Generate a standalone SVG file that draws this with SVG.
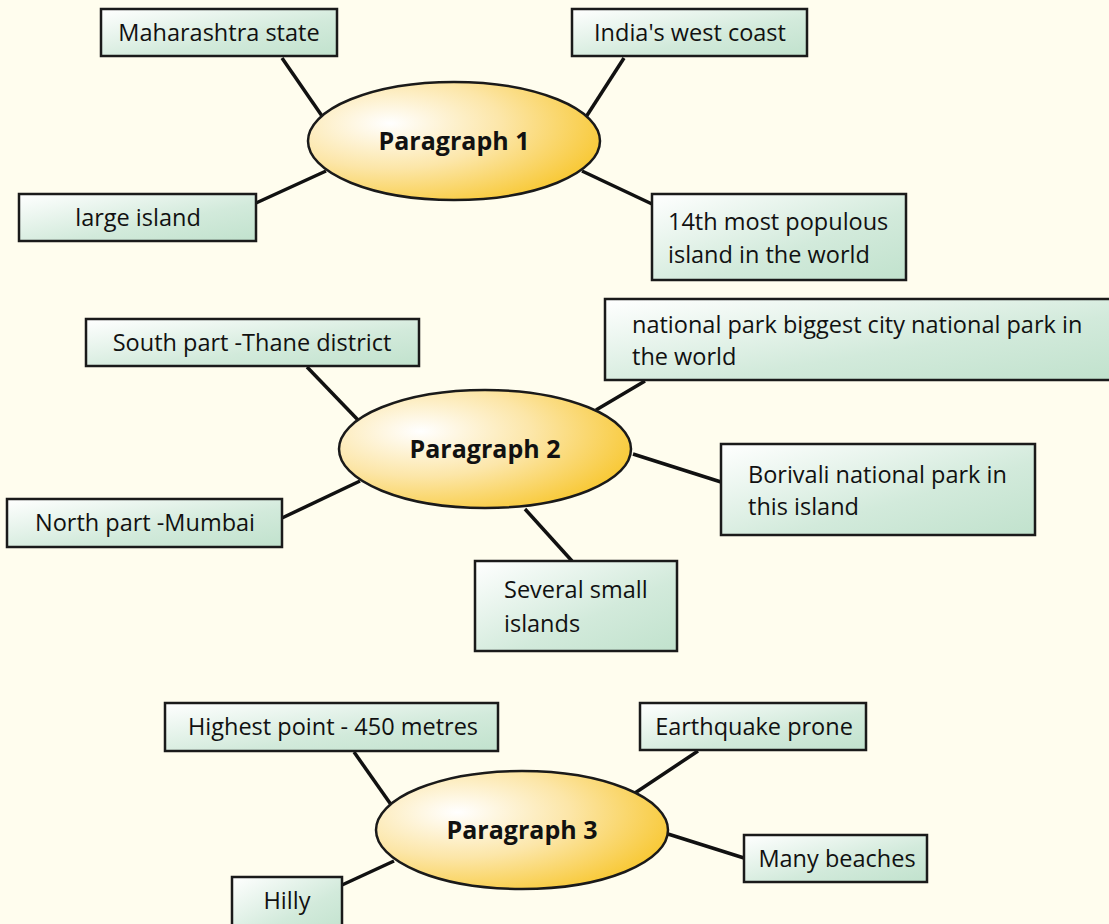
<svg xmlns="http://www.w3.org/2000/svg" width="1109" height="924" viewBox="0 0 1109 924">
<defs>
<radialGradient id="eg" cx="0.28" cy="0.35" r="0.85" fx="0.28" fy="0.35">
<stop offset="0" stop-color="#FFFFFF"/>
<stop offset="0.45" stop-color="#FCE6A8"/>
<stop offset="1" stop-color="#F7C21C"/>
</radialGradient>
<linearGradient id="bg" x1="0" y1="0" x2="1" y2="1">
<stop offset="0" stop-color="#FFFFFF"/>
<stop offset="0.6" stop-color="#D2EADB"/>
<stop offset="1" stop-color="#C1E2CD"/>
</linearGradient>
<style>
.bx{fill:url(#bg);stroke:#1a1a1a;stroke-width:2.5}
.el{fill:url(#eg);stroke:#1a1a1a;stroke-width:2.5}
.t{font-family:"Open Sans","Noto Sans",sans-serif;font-size:23.5px;fill:#111}
.c{text-anchor:middle}
.h{font-family:"Open Sans","Noto Sans",sans-serif;font-size:25px;font-weight:bold;fill:#111;text-anchor:middle}
.cn line{stroke:#111;stroke-width:3.5}
</style>
</defs>
<rect width="1109" height="924" fill="#FFFDEE"/>
<g id="connectors" class="cn">
<line x1="282" y1="58" x2="322" y2="116"/>
<line x1="624" y1="58" x2="586" y2="117"/>
<line x1="256" y1="203" x2="326" y2="171"/>
<line x1="582" y1="171" x2="652" y2="204"/>
<line x1="307" y1="367" x2="358" y2="420"/>
<line x1="645" y1="381" x2="596" y2="410"/>
<line x1="282" y1="518" x2="360" y2="481"/>
<line x1="633" y1="454" x2="721" y2="482"/>
<line x1="525" y1="509" x2="572" y2="561"/>
<line x1="354" y1="752" x2="392" y2="806"/>
<line x1="698" y1="751" x2="632" y2="795"/>
<line x1="668" y1="834" x2="744" y2="858"/>
<line x1="342" y1="885" x2="394" y2="861"/>
</g>
<g id="p1"><ellipse class="el" cx="454" cy="141" rx="146" ry="59"/><text class="h" x="454" y="150">Paragraph 1</text></g>
<g id="p2"><ellipse class="el" cx="485" cy="449" rx="146" ry="59"/><text class="h" x="485" y="458">Paragraph 2</text></g>
<g id="p3"><ellipse class="el" cx="522" cy="830" rx="146" ry="59"/><text class="h" x="522" y="839">Paragraph 3</text></g>
<g id="n1"><rect class="bx" x="101" y="9" width="236" height="47"/><text class="t c" x="219" y="41">Maharashtra state</text></g>
<g id="n2"><rect class="bx" x="572" y="9" width="235" height="47"/><text class="t c" x="690" y="41">India's west coast</text></g>
<g id="n3"><rect class="bx" x="19" y="194" width="237" height="47"/><text class="t c" x="138" y="226">large island</text></g>
<g id="n4"><rect class="bx" x="652" y="194" width="254" height="86"/><text class="t" x="668" y="230">14th most populous</text><text class="t" x="668" y="263">island in the world</text></g>
<g id="n5"><rect class="bx" x="86" y="319" width="333" height="47"/><text class="t c" x="252" y="351">South part -Thane district</text></g>
<g id="n6"><rect class="bx" x="605" y="299" width="510" height="81"/><text class="t" x="632" y="333">national park biggest city national park in</text><text class="t" x="632" y="365">the world</text></g>
<g id="n7"><rect class="bx" x="7" y="499" width="275" height="48"/><text class="t c" x="145" y="531">North part -Mumbai</text></g>
<g id="n8"><rect class="bx" x="721" y="444" width="314" height="91"/><text class="t" x="748" y="483">Borivali national park in</text><text class="t" x="748" y="515">this island</text></g>
<g id="n9"><rect class="bx" x="475" y="561" width="202" height="90"/><text class="t" x="504" y="598">Several small</text><text class="t" x="504" y="632">islands</text></g>
<g id="n10"><rect class="bx" x="165" y="703" width="333" height="48"/><text class="t c" x="333" y="735">Highest point - 450 metres</text></g>
<g id="n11"><rect class="bx" x="640" y="703" width="226" height="47"/><text class="t c" x="754" y="735">Earthquake prone</text></g>
<g id="n12"><rect class="bx" x="744" y="835" width="183" height="47"/><text class="t c" x="837" y="867">Many beaches</text></g>
<g id="n13"><rect class="bx" x="232" y="877" width="110" height="60"/><text class="t c" x="287" y="909">Hilly</text></g>
</svg>
